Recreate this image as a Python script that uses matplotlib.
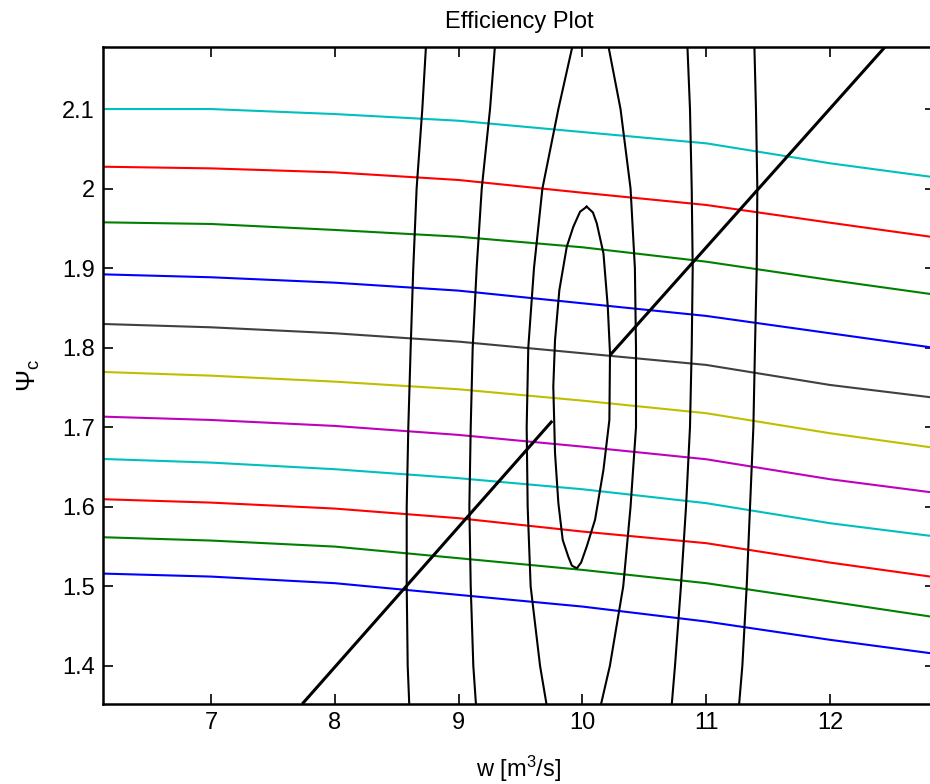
import matplotlib
matplotlib.use("Agg")
import matplotlib.pyplot as plt

plt.rcParams['font.family'] = ['Liberation Sans', 'DejaVu Sans']
plt.rcParams['mathtext.fontset'] = 'custom'
plt.rcParams['mathtext.rm'] = 'Liberation Sans'
plt.rcParams['mathtext.it'] = 'Liberation Sans:italic'

# speed lines (psi_c vs flow), read at these flow values
speed_x = [6.12, 7, 8, 9, 10, 11, 12, 12.81]
speed_lines = [
    [1.5160, 1.5122, 1.5039, 1.4892, 1.4745, 1.4557, 1.4327, 1.4159],
    [1.5617, 1.5575, 1.5499, 1.5353, 1.5206, 1.5039, 1.4808, 1.4620],
    [1.6095, 1.6052, 1.5977, 1.5856, 1.5688, 1.5542, 1.5298, 1.5122],
    [1.6601, 1.6555, 1.6472, 1.6359, 1.6220, 1.6045, 1.5793, 1.5634],
    [1.7133, 1.7091, 1.7016, 1.6903, 1.6756, 1.6597, 1.6346, 1.6183],
    [1.7695, 1.7648, 1.7573, 1.7477, 1.7334, 1.7176, 1.6924, 1.6748],
    [1.8298, 1.8256, 1.8181, 1.8076, 1.7930, 1.7783, 1.7531, 1.7377],
    [1.8922, 1.8885, 1.8817, 1.8717, 1.8558, 1.8399, 1.8181, 1.8005],
    [1.9576, 1.9555, 1.9480, 1.9395, 1.9262, 1.9081, 1.8851, 1.8675],
    [2.0275, 2.0254, 2.0204, 2.0108, 1.9948, 1.9794, 1.9571, 1.9395],
    [2.1000, 2.1000, 2.0937, 2.0853, 2.0711, 2.0569, 2.0318, 2.0149],
]
# old MATLAB colour order
line_colors = ['#0000FF', '#008000', '#FF0000', '#00BFBF', '#BF00BF', '#BFBF00', '#404040']

# efficiency contours: open branches, x read at these psi levels
branch_y = [2.18, 2.1, 2.0, 1.9, 1.8, 1.7, 1.6, 1.5, 1.4, 1.35]
branches = [
    [8.737, 8.707, 8.661, 8.634, 8.613, 8.594, 8.581, 8.581, 8.589, 8.602],
    [9.294, 9.254, 9.187, 9.146, 9.114, 9.098, 9.087, 9.098, 9.119, 9.141],
    [9.921, 9.806, 9.677, 9.609, 9.563, 9.550, 9.558, 9.582, 9.658, 9.712],
    [10.209, 10.308, 10.389, 10.424, 10.433, 10.433, 10.389, 10.330, 10.222, 10.148],
    [10.848, 10.869, 10.883, 10.891, 10.883, 10.869, 10.837, 10.796, 10.748, 10.721],
    [11.389, 11.402, 11.413, 11.408, 11.394, 11.381, 11.354, 11.327, 11.292, 11.265],
]
# closed inner contour
loop_x = [10.035, 10.085, 10.116, 10.170, 10.205, 10.223, 10.218, 10.170, 10.102, 10.035, 9.990,
          9.955, 9.915, 9.886, 9.841, 9.806, 9.779, 9.765, 9.779, 9.814, 9.874, 9.927, 9.981, 10.035]
loop_y = [1.9772, 1.9700, 1.9564, 1.9187, 1.8515, 1.7930, 1.7091, 1.6463, 1.5835, 1.5500, 1.5300,
          1.5225, 1.5260, 1.5373, 1.5583, 1.6045, 1.6673, 1.7510, 1.8097, 1.8725, 1.9270, 1.9521, 1.9709, 1.9772]

# surge line (broken inside the peak contour)
surge_lo_x = [7.737, 9.757]
surge_lo_y = [1.352, 1.708]
surge_hi_x = [10.223, 12.444]
surge_hi_y = [1.7905, 2.178]

fig = plt.figure(figsize=(9.3, 7.84), dpi=100)
ax = fig.add_axes([103 / 930, 80 / 784, 832 / 930, 657 / 784])

for i, vals in enumerate(speed_lines):
    ax.plot(speed_x, vals, color=line_colors[i % len(line_colors)], lw=1.5)

for bx in branches:
    ax.plot(bx, branch_y, color='black', lw=1.5)
ax.plot(loop_x, loop_y, color='black', lw=1.5)

ax.plot(surge_lo_x, surge_lo_y, color='black', lw=2.2, solid_capstyle='butt')
ax.plot(surge_hi_x, surge_hi_y, color='black', lw=2.2, solid_capstyle='butt')

ax.set_xlim(6.128, 12.848)
ax.set_ylim(1.352, 2.178)
ax.set_xticks([7, 8, 9, 10, 11, 12])
ax.set_xticklabels(['7', '8', '9', '10', '11', '12'])
ax.set_yticks([1.4, 1.5, 1.6, 1.7, 1.8, 1.9, 2.0, 2.1])
ax.set_yticklabels(['1.4', '1.5', '1.6', '1.7', '1.8', '1.9', '2', '2.1'])
ax.tick_params(direction='in', top=True, right=True, length=7, width=1.2,
               labelsize=17, pad=6)
for s in ax.spines.values():
    s.set_linewidth(1.8)

ax.set_title('Efficiency Plot', fontsize=17, pad=14)
ax.set_xlabel('w [m$^3$/s]', fontsize=17, labelpad=14)
ax.set_ylabel(r'$\mathrm{\Psi_c}$', fontsize=19, labelpad=14)

fig.savefig('out.png', dpi=100)
